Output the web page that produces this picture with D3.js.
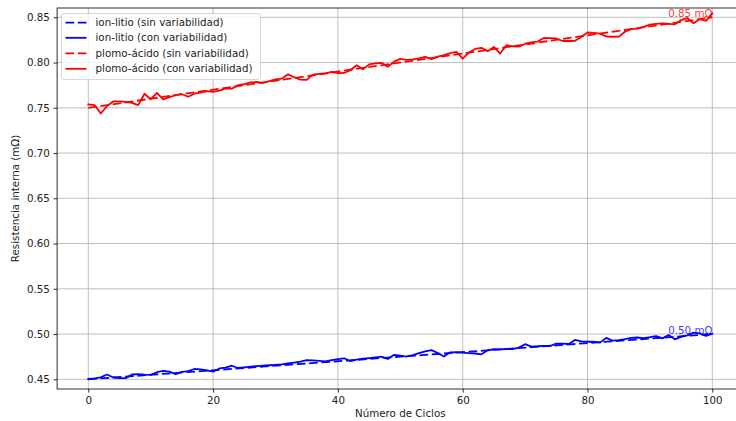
<!DOCTYPE html>
<html>
<head>
<meta charset="utf-8">
<script src="https://cdn.jsdelivr.net/npm/d3@7"></script>
<style>
  html, body { margin: 0; padding: 0; background: #fff; }
  svg { display: block; font-family: "DejaVu Sans", sans-serif; }
</style>
</head>
<body>
<svg id="chart" width="736" height="421"></svg>
<script>
// Cycle index for the measured (noisy) series
const cycles = d3.range(0, 101);

// Ideal linear ageing: start and end of each "sin variabilidad" line
const idealCycles = [0, 100];
const ionSin = [0.45, 0.50];
const plomoSin = [0.75, 0.85];

// Internal resistance with variability, one value per cycle (mΩ)
const ionCon = [
  0.4504, 0.4510, 0.4522, 0.4553, 0.4520, 0.4514, 0.4512, 0.4553, 0.4558, 0.4552,
  0.4549, 0.4578, 0.4592, 0.4585, 0.4556, 0.4582, 0.4590, 0.4614, 0.4610, 0.4598,
  0.4584, 0.4620, 0.4630, 0.4650, 0.4625, 0.4632, 0.4640, 0.4646, 0.4650, 0.4655,
  0.4659, 0.4664, 0.4675, 0.4685, 0.4696, 0.4712, 0.4710, 0.4704, 0.4698, 0.4712,
  0.4722, 0.4732, 0.4700, 0.4718, 0.4728, 0.4735, 0.4742, 0.4750, 0.4724, 0.4770,
  0.4762, 0.4750, 0.4768, 0.4790, 0.4808, 0.4822, 0.4790, 0.4752, 0.4798, 0.4800,
  0.4795, 0.4790, 0.4785, 0.4776, 0.4820, 0.4832, 0.4830, 0.4835, 0.4833, 0.4850,
  0.4888, 0.4862, 0.4865, 0.4870, 0.4868, 0.4895, 0.4894, 0.4890, 0.4935, 0.4920,
  0.4915, 0.4915, 0.4905, 0.4958, 0.4928, 0.4934, 0.4945, 0.4958, 0.4962, 0.4955,
  0.4965, 0.4978, 0.4952, 0.4990, 0.4942, 0.4968, 0.4985, 0.5015, 0.5008, 0.4980,
  0.5005
];
const plomoCon = [
  0.7537, 0.7530, 0.7437, 0.7520, 0.7570, 0.7572, 0.7566, 0.7555, 0.7530, 0.7655,
  0.7595, 0.7664, 0.7594, 0.7618, 0.7640, 0.7650, 0.7622, 0.7656, 0.7668, 0.7684,
  0.7677, 0.7690, 0.7714, 0.7712, 0.7750, 0.7762, 0.7780, 0.7785, 0.7776, 0.7795,
  0.7815, 0.7822, 0.7870, 0.7838, 0.7812, 0.7808, 0.7866, 0.7875, 0.7880, 0.7896,
  0.7882, 0.7885, 0.7915, 0.7970, 0.7925, 0.7980, 0.7990, 0.7997, 0.7953, 0.8010,
  0.8040, 0.8030, 0.8035, 0.8046, 0.8062, 0.8038, 0.8065, 0.8082, 0.8105, 0.8118,
  0.8044, 0.8112, 0.8150, 0.8163, 0.8126, 0.8172, 0.8100, 0.8192, 0.8180, 0.8175,
  0.8208, 0.8222, 0.8232, 0.8272, 0.8270, 0.8266, 0.8238, 0.8238, 0.8240, 0.8282,
  0.8332, 0.8328, 0.8320, 0.8288, 0.8285, 0.8286, 0.8340, 0.8370, 0.8376, 0.8395,
  0.8418, 0.8428, 0.8433, 0.8428, 0.8422, 0.8470, 0.8490, 0.8435, 0.8481, 0.8460,
  0.8544
];

const xTicks = [0, 20, 40, 60, 80, 100];
const yTicks = [0.45, 0.50, 0.55, 0.60, 0.65, 0.70, 0.75, 0.80, 0.85];

const seriesNames = [
  "ion-litio (sin variabilidad)",
  "ion-litio (con variabilidad)",
  "plomo-ácido (sin variabilidad)",
  "plomo-ácido (con variabilidad)"
];
const endLabels = ["0.50 mΩ", "0.85 mΩ"];

// ---- layout ----
const svg = d3.select("#chart");
const plot = { left: 57.1, top: 8, right: 743.5, bottom: 389 };
const FS = 10.3;
const LW = 1.8;

const x = d3.scaleLinear().domain([-5, 105]).range([plot.left, plot.right]);
const y = d3.scaleLinear().domain([0.43928, 0.86028]).range([plot.bottom, plot.top]);

// grid
const grid = svg.append("g").attr("stroke", "#b0b0b0").attr("stroke-width", 0.82);
grid.selectAll("line.gx").data(xTicks).join("line")
  .attr("x1", d => x(d)).attr("x2", d => x(d))
  .attr("y1", plot.top).attr("y2", plot.bottom);
grid.selectAll("line.gy").data(yTicks).join("line")
  .attr("x1", plot.left).attr("x2", plot.right)
  .attr("y1", d => y(d)).attr("y2", d => y(d));

// series
const lineIdeal = d3.line().x((d, i) => x(idealCycles[i])).y(d => y(d));
const lineCon = d3.line().x((d, i) => x(cycles[i])).y(d => y(d));

const series = [
  { data: ionSin, gen: lineIdeal, color: "#0000ff", dash: "8.6,3.7" },
  { data: ionCon, gen: lineCon, color: "#0000ff", dash: null },
  { data: plomoSin, gen: lineIdeal, color: "#ff0000", dash: "8.6,3.7" },
  { data: plomoCon, gen: lineCon, color: "#ff0000", dash: null }
];

svg.append("clipPath").attr("id", "plotclip")
  .append("rect").attr("x", plot.left).attr("y", plot.top)
  .attr("width", plot.right - plot.left).attr("height", plot.bottom - plot.top);

const lines = svg.append("g").attr("clip-path", "url(#plotclip)");
series.forEach(s => {
  lines.append("path")
    .attr("d", s.gen(s.data))
    .attr("fill", "none")
    .attr("stroke", s.color)
    .attr("stroke-width", LW)
    .attr("stroke-linejoin", "round")
    .attr("stroke-linecap", s.dash ? "butt" : "square")
    .attr("stroke-dasharray", s.dash);
});

// end-value labels
const labelData = [
  { v: ionSin[1], text: endLabels[0], color: "#0000ff" },
  { v: plomoSin[1], text: endLabels[1], color: "#ff0000" }
];
svg.append("g").selectAll("text").data(labelData).join("text")
  .attr("x", x(100)).attr("y", d => y(d.v) - 0.3)
  .attr("text-anchor", "end")
  .attr("font-size", FS)
  .attr("fill", d => d.color)
  .attr("fill-opacity", 0.8)
  .text(d => d.text);

// axes
const xAxis = d3.axisBottom(x).tickValues(xTicks).tickSize(3.6).tickPadding(3.6)
  .tickFormat(d3.format("d"));
const yAxis = d3.axisLeft(y).tickValues(yTicks).tickSize(3.6).tickPadding(3.6)
  .tickFormat(d3.format(".2f"));

const gx = svg.append("g").attr("transform", `translate(0,${plot.bottom})`).call(xAxis);
const gy = svg.append("g").attr("transform", `translate(${plot.left},0)`).call(yAxis);
[gx, gy].forEach(g => {
  g.select(".domain").remove();
  g.selectAll(".tick line").attr("stroke", "#000").attr("stroke-width", 0.82);
  g.selectAll(".tick text").attr("font-size", FS).attr("fill", "#222")
    .attr("font-family", "DejaVu Sans");
});

// spines
svg.append("rect")
  .attr("x", plot.left).attr("y", plot.top)
  .attr("width", plot.right - plot.left).attr("height", plot.bottom - plot.top)
  .attr("fill", "none").attr("stroke", "#000").attr("stroke-width", 0.82);

// axis titles
svg.append("text")
  .attr("x", (plot.left + plot.right) / 2).attr("y", 417)
  .attr("text-anchor", "middle").attr("font-size", FS).attr("fill", "#222")
  .text("Número de Ciclos");
svg.append("text")
  .attr("transform", `translate(19,${(plot.top + plot.bottom) / 2}) rotate(-90)`)
  .attr("text-anchor", "middle").attr("font-size", FS).attr("fill", "#222")
  .text("Resistencia interna (mΩ)");

// legend
const legend = svg.append("g");
legend.append("rect")
  .attr("x", 61.5).attr("y", 13.5).attr("width", 199).attr("height", 66)
  .attr("rx", 2.5)
  .attr("fill", "#fff").attr("fill-opacity", 0.8)
  .attr("stroke", "#cccccc").attr("stroke-width", 0.8);
const rowY = [22.7, 37.8, 53.3, 68.8];
seriesNames.forEach((name, i) => {
  const s = series[i];
  legend.append("line")
    .attr("x1", 65.5).attr("x2", 86.5)
    .attr("y1", rowY[i]).attr("y2", rowY[i])
    .attr("stroke", s.color).attr("stroke-width", LW)
    .attr("stroke-dasharray", s.dash);
  legend.append("text")
    .attr("x", 95.5).attr("y", rowY[i])
    .attr("dy", "0.35em")
    .attr("font-size", FS).attr("fill", "#222")
    .text(name);
});
</script>
</body>
</html>
